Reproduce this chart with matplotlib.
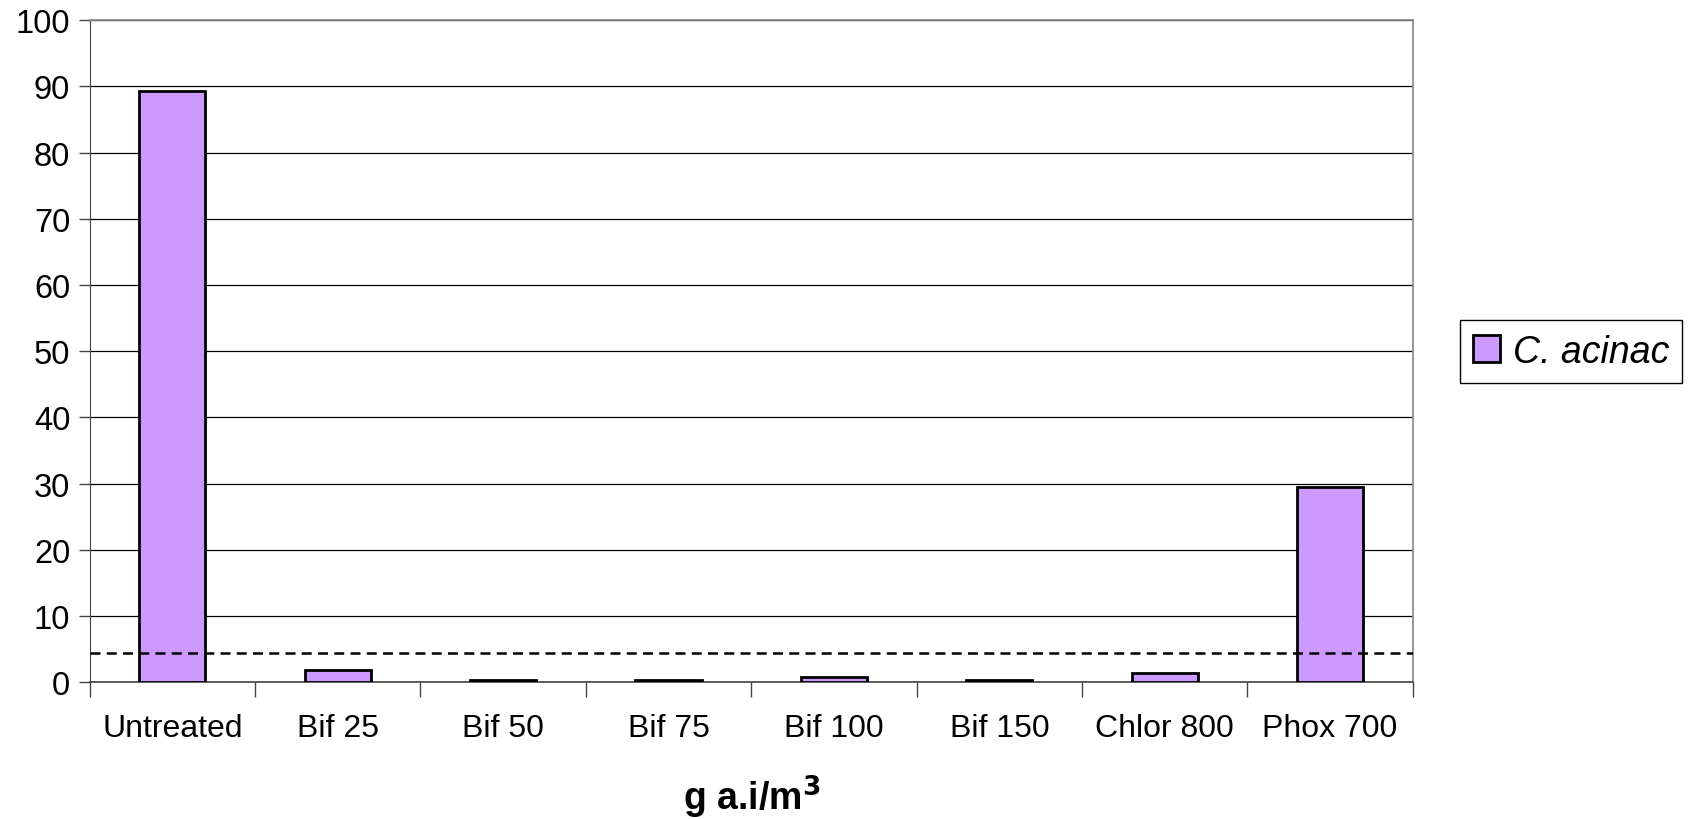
import matplotlib.pyplot as plt
import numpy as np

# treatments and mean counts
treatments = ['Untreated', 'Bif 25', 'Bif 50', 'Bif 75', 'Bif 100', 'Bif 150', 'Chlor 800', 'Phox 700']
counts = [89.3, 1.8, 0.3, 0.3, 0.7, 0.3, 1.3, 29.5]
threshold = 4.4
series_name = 'C. acinac'

plt.rcParams['font.family'] = ['Liberation Sans', 'DejaVu Sans']

fig = plt.figure(figsize=(16.92, 8.2), dpi=100)
ax = fig.add_axes([0.053, 0.167, 0.782, 0.807])

x = np.arange(len(treatments))
ax.bar(x, counts, width=0.4, color='#CC99FF', edgecolor='black', linewidth=2,
       label=series_name, zorder=3)

# horizontal grid at each 10
ax.set_ylim(0, 100)
ax.set_yticks(range(0, 101, 10))
ax.yaxis.grid(True, color='black', linewidth=0.9, zorder=0)
ax.set_axisbelow(True)

# threshold line
ax.axhline(threshold, color='black', linestyle=(0, (4, 2.5)), linewidth=1.8, zorder=4)

ax.set_xlim(-0.5, len(treatments) - 0.5)
ax.set_xticks(x)
ax.set_xticklabels(treatments)
ax.tick_params(axis='x', length=0, pad=22, labelsize=23)
ax.set_xticks(np.arange(-0.5, len(treatments)), minor=True)
ax.tick_params(axis='x', which='minor', length=11, width=1, color='#444444')
ax.tick_params(axis='y', length=8, width=1, labelsize=23.5, pad=6, color='#444444')

for side in ['top', 'right']:
    ax.spines[side].set_color('#888888')
    ax.spines[side].set_linewidth(1.2)
ax.spines['left'].set_color('#444444')
ax.spines['bottom'].set_color('#444444')
ax.spines['bottom'].set_linewidth(1.2)

ax.set_xlabel(r'g a.i/m$^{\mathbf{3}}$', fontsize=27, fontweight='bold', labelpad=22)

leg = fig.legend(loc='center left', bbox_to_anchor=(0.852, 0.57),
                 fancybox=False, edgecolor='black', framealpha=1,
                 prop={'style': 'italic', 'size': 27}, handlelength=0.7,
                 handleheight=0.7, handletextpad=0.35, borderpad=0.35)
leg.get_frame().set_linewidth(1)

fig.savefig('out.png', dpi=100)
